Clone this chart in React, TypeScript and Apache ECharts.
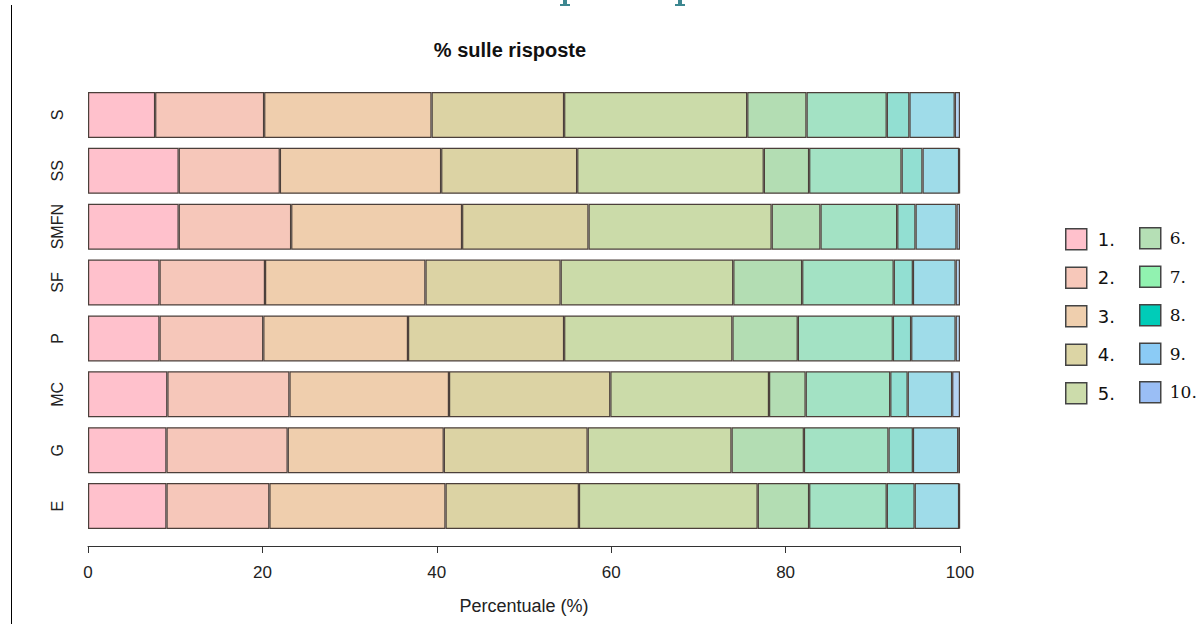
import React, { useEffect, useRef } from "react";
import * as echarts from "echarts";

const rows = ["E", "G", "MC", "P", "SF", "SMFN", "SS", "S"];
const groups = ["1.", "2.", "3.", "4.", "5.", "6.", "7.", "8.", "9.", "10."];

// percentage of each answer group per row (rows order: E, G, MC, P, SF, SMFN, SS, S)
const rowE = [9.0, 11.8, 20.2, 15.3, 20.5, 5.9, 8.9, 3.2, 5.1, 0.1];
const rowG = [9.0, 13.9, 17.9, 16.5, 16.5, 8.3, 9.7, 2.8, 5.2, 0.2];
const rowMC = [9.1, 14.0, 18.3, 18.5, 18.2, 4.2, 9.7, 2.0, 5.1, 0.9];
const rowP = [8.2, 11.9, 16.6, 17.9, 19.3, 7.5, 10.9, 2.1, 5.1, 0.5];
const rowSF = [8.2, 12.1, 18.4, 15.5, 19.8, 7.9, 10.5, 2.2, 4.9, 0.5];
const rowSMFN = [10.4, 12.9, 19.6, 14.5, 21.0, 5.6, 8.8, 2.1, 4.7, 0.4];
const rowSS = [10.4, 11.6, 18.5, 15.6, 21.4, 5.2, 10.6, 2.4, 4.2, 0.1];
const rowS = [7.7, 12.5, 19.2, 15.2, 21.0, 6.8, 9.2, 2.6, 5.2, 0.6];

const xTicks = [0, 20, 40, 60, 80, 100];

const barColors = ["#FFC1CC", "#F6C7BA", "#EFCEAD", "#DCD3A4", "#CBDBA9", "#B3DDB3", "#A3E2C4", "#92DFD2", "#9FDCE9", "#B4D3F2"];
const legendColors = ["#FFC1CC", "#F7C8BA", "#EFCFAE", "#DCD5A5", "#CCDCAB", "#B5DFB5", "#91F2B0", "#00CCB8", "#8BCBF5", "#9ABEF5"];

export default function App() {
  const ref = useRef<HTMLDivElement>(null);
  useEffect(() => {
    if (!ref.current) return;
    const chart = echarts.init(ref.current, undefined, { renderer: "svg" });
    const table = [rowE, rowG, rowMC, rowP, rowSF, rowSMFN, rowSS, rowS];
    const series = groups.map((g, i) => ({
      name: g,
      type: "bar",
      stack: "total",
      barWidth: 46,
      data: table.map((r) => r[i]),
      itemStyle: { color: barColors[i], borderColor: "#4b3f3a", borderWidth: 1.2 },
      emphasis: { disabled: true },
    }));
    const legendCommon = {
      orient: "vertical",
      itemWidth: 21,
      itemHeight: 21,
      itemGap: 16,
      padding: 0,
      selectedMode: false,
      icon: "rect",
      itemStyle: { borderColor: "#444", borderWidth: 1.5 },
    };
    chart.setOption({
      animation: false,
      backgroundColor: "#ffffff",
      title: {
        text: "% sulle risposte",
        left: 505,
        top: 35,
        textAlign: "center",
        textStyle: { fontFamily: "'Liberation Sans', Arial", fontWeight: "bold", fontSize: 20, color: "#111" },
      },
      legend: [
        {
          ...legendCommon,
          left: 1065,
          top: 228,
          data: groups.slice(0, 5).map((g, i) => ({ name: g, itemStyle: { color: legendColors[i] } })),
          textStyle: { fontFamily: "'DejaVu Sans', sans-serif", fontSize: 18, color: "#111", padding: [0, 0, 0, 6] },
        },
        {
          ...legendCommon,
          left: 1139,
          top: 227,
          data: groups.slice(5).map((g, i) => ({ name: g, itemStyle: { color: legendColors[i + 5] } })),
          textStyle: { fontFamily: "'DejaVu Serif', serif", fontSize: 17, color: "#111", padding: [0, 0, 0, 4] },
        },
      ],
      grid: { left: 88, right: 238, top: 87, bottom: 90, containLabel: false },
      xAxis: {
        type: "value",
        min: 0,
        max: 100,
        interval: 20,
        offset: 12,
        splitLine: { show: false },
        axisLine: { show: true, lineStyle: { color: "#333", width: 1 } },
        axisTick: { show: true, length: 7, lineStyle: { color: "#333" } },
        axisLabel: {
          margin: 18,
          fontSize: 17,
          color: "#222",
          fontFamily: "'Liberation Sans Narrow', 'Liberation Sans'",
          formatter: (v: number) => (xTicks.includes(v) ? String(v) : ""),
        },
        name: "Percentuale (%)",
        nameLocation: "middle",
        nameGap: 51,
        nameTextStyle: { fontSize: 18, color: "#222", fontFamily: "'Liberation Sans Narrow', 'Liberation Sans'" },
      },
      yAxis: {
        type: "category",
        data: rows,
        axisLine: { show: false },
        axisTick: { show: false },
        axisLabel: {
          interval: 0,
          hideOverlap: false,
          rotate: 90,
          margin: 23,
          fontSize: 16,
          color: "#222",
          fontFamily: "'Liberation Sans', Arial",
        },
      },
      graphic: [
        { type: "line", shape: { x1: 11.5, y1: 5, x2: 11.5, y2: 624 }, style: { stroke: "#000", lineWidth: 1 } },
        { type: "rect", shape: { x: 563, y: 0, width: 4, height: 5 }, style: { fill: "#3d8790" } },
        { type: "rect", shape: { x: 560, y: 4, width: 10, height: 2 }, style: { fill: "#3d8790" } },
        { type: "rect", shape: { x: 678, y: 0, width: 4, height: 5 }, style: { fill: "#3d8790" } },
        { type: "rect", shape: { x: 675, y: 4, width: 10, height: 2 }, style: { fill: "#3d8790" } },
      ],
      series,
    });
    return () => chart.dispose();
  }, []);
  return <div ref={ref} style={{ width: 1198, height: 624, position: "absolute", left: 0, top: 0 }} />;
}
